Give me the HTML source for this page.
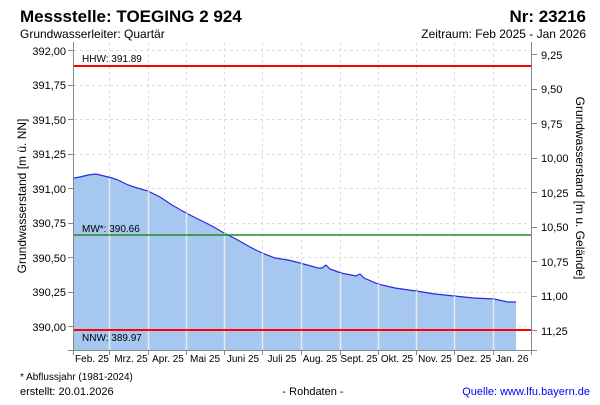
<!DOCTYPE html>
<html><head><meta charset="utf-8"><style>
body{margin:0;background:#fff;width:600px;height:400px;overflow:hidden;font-family:"Liberation Sans",sans-serif}
</style></head><body>
<svg width="600" height="400" xmlns="http://www.w3.org/2000/svg" font-family="Liberation Sans, sans-serif">
<text x="20" y="22" font-size="17" font-weight="bold">Messstelle: TOEGING 2 924</text>
<text x="586" y="22" font-size="17" font-weight="bold" text-anchor="end">Nr: 23216</text>
<text x="20" y="38" font-size="12">Grundwasserleiter: Quartär</text>
<text x="586" y="38" font-size="12" text-anchor="end">Zeitraum: Feb 2025 - Jan 2026</text>
<g stroke="#ddd" stroke-dasharray="3,3" stroke-width="1">
<line x1="74" x2="531" y1="50.5" y2="50.5"/><line x1="74" x2="531" y1="85.5" y2="85.5"/><line x1="74" x2="531" y1="119.5" y2="119.5"/><line x1="74" x2="531" y1="154.5" y2="154.5"/><line x1="74" x2="531" y1="188.5" y2="188.5"/><line x1="74" x2="531" y1="223.5" y2="223.5"/><line x1="74" x2="531" y1="257.5" y2="257.5"/><line x1="74" x2="531" y1="292.5" y2="292.5"/><line x1="74" x2="531" y1="326.5" y2="326.5"/>
<line x1="109.5" x2="109.5" y1="42" y2="350"/><line x1="148.5" x2="148.5" y1="42" y2="350"/><line x1="186.5" x2="186.5" y1="42" y2="350"/><line x1="224.5" x2="224.5" y1="42" y2="350"/><line x1="262.5" x2="262.5" y1="42" y2="350"/><line x1="301.5" x2="301.5" y1="42" y2="350"/><line x1="340.5" x2="340.5" y1="42" y2="350"/><line x1="378.5" x2="378.5" y1="42" y2="350"/><line x1="416.5" x2="416.5" y1="42" y2="350"/><line x1="454.5" x2="454.5" y1="42" y2="350"/><line x1="493.5" x2="493.5" y1="42" y2="350"/>
</g>
<path d="M74,178 L80,177 L88,175 L96,174 L104,176 L112,178 L118,180 L126,184 L134,187 L148,191 L160,197 L172,205 L186,213 L200,220 L212,226 L224,233 L236,239 L250,247 L262,253 L275,258 L288,260 L300,263 L318,268 L322,268 L326,265 L330,269 L341,273 L356,276 L360,274 L364,278 L378,284 L395,288 L416,291 L435,294 L454,296 L474,298 L494,299 L508,302 L516,302 L516,350 L74,350 Z" fill="#a6c8f0" stroke="none"/>
<path d="M74,178 L80,177 L88,175 L96,174 L104,176 L112,178 L118,180 L126,184 L134,187 L148,191 L160,197 L172,205 L186,213 L200,220 L212,226 L224,233 L236,239 L250,247 L262,253 L275,258 L288,260 L300,263 L318,268 L322,268 L326,265 L330,269 L341,273 L356,276 L360,274 L364,278 L378,284 L395,288 L416,291 L435,294 L454,296 L474,298 L494,299 L508,302 L516,302" fill="none" stroke="#2a2ae0" stroke-width="1.2"/>
<g stroke="#e8e8e8" stroke-width="1.5">
<line x1="109.5" x2="109.5" y1="178" y2="350"/><line x1="148.5" x2="148.5" y1="191" y2="350"/><line x1="186.5" x2="186.5" y1="213" y2="350"/><line x1="224.5" x2="224.5" y1="233" y2="350"/><line x1="262.5" x2="262.5" y1="253" y2="350"/><line x1="301.5" x2="301.5" y1="263" y2="350"/><line x1="340.5" x2="340.5" y1="273" y2="350"/><line x1="378.5" x2="378.5" y1="284" y2="350"/><line x1="416.5" x2="416.5" y1="291" y2="350"/><line x1="454.5" x2="454.5" y1="296" y2="350"/><line x1="493.5" x2="493.5" y1="299" y2="350"/>
</g>
<line x1="74" x2="531" y1="66" y2="66" stroke="#f00" stroke-width="2"/>
<line x1="74" x2="531" y1="235" y2="235" stroke="#228B22" stroke-width="1.5"/>
<line x1="74" x2="531" y1="330" y2="330" stroke="#f00" stroke-width="2"/>
<g font-size="10"><text x="82" y="62">HHW: 391.89</text><text x="82" y="232">MW*: 390.66</text><text x="82" y="341">NNW: 389.97</text></g>
<g stroke="#888" fill="none"><line x1="73.5" x2="73.5" y1="42" y2="355"/><line x1="531.5" x2="531.5" y1="42" y2="355"/><line x1="68" x2="537" y1="350.5" y2="350.5"/></g>
<g stroke="#888"><line x1="68" x2="73" y1="50.5" y2="50.5"/><line x1="68" x2="73" y1="85.5" y2="85.5"/><line x1="68" x2="73" y1="119.5" y2="119.5"/><line x1="68" x2="73" y1="154.5" y2="154.5"/><line x1="68" x2="73" y1="188.5" y2="188.5"/><line x1="68" x2="73" y1="223.5" y2="223.5"/><line x1="68" x2="73" y1="257.5" y2="257.5"/><line x1="68" x2="73" y1="292.5" y2="292.5"/><line x1="68" x2="73" y1="326.5" y2="326.5"/>
<line x1="532" x2="537" y1="54.5" y2="54.5"/><line x1="532" x2="537" y1="89.5" y2="89.5"/><line x1="532" x2="537" y1="123.5" y2="123.5"/><line x1="532" x2="537" y1="158.5" y2="158.5"/><line x1="532" x2="537" y1="192.5" y2="192.5"/><line x1="532" x2="537" y1="227.5" y2="227.5"/><line x1="532" x2="537" y1="261.5" y2="261.5"/><line x1="532" x2="537" y1="296.5" y2="296.5"/><line x1="532" x2="537" y1="330.5" y2="330.5"/>
<line x1="109.5" x2="109.5" y1="350" y2="355"/><line x1="148.5" x2="148.5" y1="350" y2="355"/><line x1="186.5" x2="186.5" y1="350" y2="355"/><line x1="224.5" x2="224.5" y1="350" y2="355"/><line x1="262.5" x2="262.5" y1="350" y2="355"/><line x1="301.5" x2="301.5" y1="350" y2="355"/><line x1="340.5" x2="340.5" y1="350" y2="355"/><line x1="378.5" x2="378.5" y1="350" y2="355"/><line x1="416.5" x2="416.5" y1="350" y2="355"/><line x1="454.5" x2="454.5" y1="350" y2="355"/><line x1="493.5" x2="493.5" y1="350" y2="355"/></g>
<g font-size="11" text-anchor="end"><text x="66" y="55">392,00</text><text x="66" y="89">391,75</text><text x="66" y="124">391,50</text><text x="66" y="158">391,25</text><text x="66" y="193">391,00</text><text x="66" y="227">390,75</text><text x="66" y="262">390,50</text><text x="66" y="296">390,25</text><text x="66" y="331">390,00</text></g>
<g font-size="11"><text x="541" y="59">9,25</text><text x="541" y="93">9,50</text><text x="541" y="128">9,75</text><text x="541" y="162">10,00</text><text x="541" y="197">10,25</text><text x="541" y="231">10,50</text><text x="541" y="266">10,75</text><text x="541" y="300">11,00</text><text x="541" y="335">11,25</text></g>
<g font-size="10" text-anchor="middle"><text x="92" y="362">Feb. 25</text><text x="131" y="362">Mrz. 25</text><text x="168" y="362">Apr. 25</text><text x="205" y="362">Mai 25</text><text x="243" y="362">Juni 25</text><text x="282" y="362">Juli 25</text><text x="320" y="362">Aug. 25</text><text x="359" y="362">Sept. 25</text><text x="397" y="362">Okt. 25</text><text x="435" y="362">Nov. 25</text><text x="474" y="362">Dez. 25</text><text x="512" y="362">Jan. 26</text></g>
<text transform="translate(26,196) rotate(-90)" font-size="12" text-anchor="middle">Grundwasserstand [m ü. NN]</text>
<text transform="translate(576,188) rotate(90)" font-size="12" text-anchor="middle">Grundwasserstand [m u. Gelände]</text>
<text x="20" y="380" font-size="10">* Abflussjahr (1981-2024)</text>
<text x="20" y="395" font-size="11">erstellt:  20.01.2026</text>
<text x="313" y="395" font-size="11" text-anchor="middle">- Rohdaten -</text>
<text x="590" y="395" font-size="11" text-anchor="end" fill="#00f">Quelle: www.lfu.bayern.de</text>
</svg>
</body></html>
